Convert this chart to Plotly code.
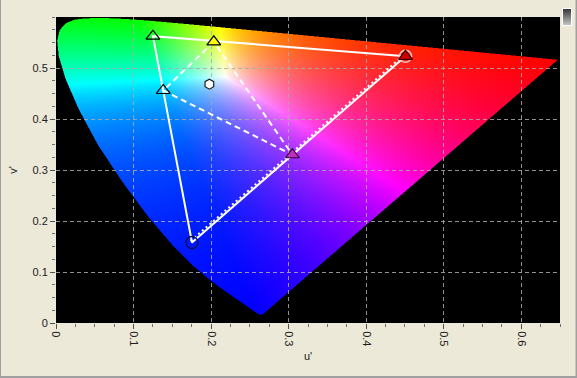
import base64, struct, zlib
import numpy as np
import plotly.graph_objects as go

# ---------------- data ----------------
# CIE 1931 2-degree spectral locus (x, y), 380..700 nm in 5 nm steps
locus_x = [0.1741, 0.1740, 0.1738, 0.1736, 0.1733, 0.1730, 0.1726, 0.1721, 0.1714, 0.1703,
           0.1689, 0.1669, 0.1644, 0.1611, 0.1566, 0.1510, 0.1440, 0.1355, 0.1241, 0.1096,
           0.0913, 0.0687, 0.0454, 0.0235, 0.0082, 0.0039, 0.0139, 0.0389, 0.0743, 0.1142,
           0.1547, 0.1929, 0.2296, 0.2658, 0.3016, 0.3373, 0.3731, 0.4087, 0.4441, 0.4788,
           0.5125, 0.5448, 0.5752, 0.6029, 0.6270, 0.6482, 0.6658, 0.6801, 0.6915, 0.7006,
           0.7079, 0.7140, 0.7190, 0.7230, 0.7260, 0.7283, 0.7300, 0.7311, 0.7320, 0.7327,
           0.7334, 0.7340, 0.7344, 0.7346, 0.7347]
locus_y = [0.0050, 0.0050, 0.0049, 0.0049, 0.0048, 0.0048, 0.0048, 0.0048, 0.0051, 0.0058,
           0.0069, 0.0086, 0.0109, 0.0138, 0.0177, 0.0227, 0.0297, 0.0399, 0.0578, 0.0868,
           0.1327, 0.2007, 0.2950, 0.4127, 0.5384, 0.6548, 0.7502, 0.8120, 0.8338, 0.8262,
           0.8059, 0.7816, 0.7543, 0.7243, 0.6923, 0.6589, 0.6245, 0.5896, 0.5547, 0.5202,
           0.4866, 0.4544, 0.4242, 0.3965, 0.3725, 0.3514, 0.3340, 0.3197, 0.3083, 0.2993,
           0.2920, 0.2859, 0.2809, 0.2770, 0.2740, 0.2717, 0.2700, 0.2689, 0.2680, 0.2673,
           0.2666, 0.2660, 0.2656, 0.2654, 0.2653]

# primaries (R, G, B) in u'v'
primary_u = [0.4507, 0.1250, 0.1754]
primary_v = [0.5229, 0.5625, 0.1579]
# secondaries (Y, C, M) in u'v'
secondary_u = [0.2035, 0.1383, 0.3049]
secondary_v = [0.5513, 0.4559, 0.3299]
# measured blue -> red edge (dotted)
measured_u = [0.1737, 0.4490]
measured_v = [0.1609, 0.5259]
# white point
white_u = [0.1978]
white_v = [0.4683]

x_ticks = [0, 0.1, 0.2, 0.3, 0.4, 0.5, 0.6]
y_ticks = [0, 0.1, 0.2, 0.3, 0.4, 0.5]
X_RANGE = [0, 0.65]
Y_RANGE = [0, 0.6]

# ---------------- background diagram image ----------------
W, H = 504 * 2, 306 * 2
SU, SV = 1.038, 1.019   # stretch of the diagram bitmap, as in the reference
GAMMA = 1.0


def png_bytes(rgb):
    h, w, _ = rgb.shape
    raw = b"".join(b"\x00" + rgb[r].tobytes() for r in range(h))
    def chunk(t, d):
        c = struct.pack(">I", len(d)) + t + d
        return c + struct.pack(">I", zlib.crc32(t + d) & 0xffffffff)
    return (b"\x89PNG\r\n\x1a\n" + chunk(b"IHDR", struct.pack(">IIBBBBB", w, h, 8, 2, 0, 0, 0))
            + chunk(b"IDAT", zlib.compress(raw, 9)) + chunk(b"IEND", b""))


lx = np.array(locus_x); ly = np.array(locus_y)
den = -2 * lx + 12 * ly + 3
poly_u = 4 * lx / den
poly_v = 9 * ly / den

us = (np.arange(W) + 0.5) / W * X_RANGE[1]
vs = Y_RANGE[1] - (np.arange(H) + 0.5) / H * Y_RANGE[1]
UU, VV = np.meshgrid(us / SU, vs / SV)

# point in polygon (ray casting)
inside = np.zeros(UU.shape, dtype=bool)
n = len(poly_u)
for i in range(n):
    j = (i - 1) % n
    ui, vi, uj, vj = poly_u[i], poly_v[i], poly_u[j], poly_v[j]
    cond = ((vi > VV) != (vj > VV))
    with np.errstate(divide="ignore", invalid="ignore"):
        xint = (uj - ui) * (VV - vi) / (vj - vi) + ui
    inside ^= cond & (UU < xint)

d = 6 * UU - 16 * VV + 12
cx = 9 * UU / d
cy = np.maximum(4 * VV / d, 1e-6)
Xc = cx / cy
Yc = np.ones_like(cx)
Zc = (1 - cx - cy) / cy
# CIE RGB (equal-energy white) primaries
M_rgb2xyz = np.array([[0.49, 0.31, 0.20], [0.17697, 0.81240, 0.01063], [0.00, 0.01, 0.99]])
M = np.linalg.inv(M_rgb2xyz)
xyz = np.stack([Xc, Yc, Zc], axis=-1)
rgb = xyz @ M.T
rgb = np.clip(rgb, 0, None)
mx = rgb.max(axis=-1, keepdims=True)
mx[mx == 0] = 1
rgb = rgb / mx
rgb = np.power(rgb, 1 / GAMMA)
rgb = (np.clip(rgb, 0, 1) * 255).astype(np.uint8)
rgb[~inside] = 0
diagram_src = "data:image/png;base64," + base64.b64encode(png_bytes(rgb)).decode()

# small gradient widget (top right)
gh, gw = 18, 10
grad = np.zeros((gh, gw, 3), dtype=np.uint8)
for r in range(gh):
    val = int(50 + (200 - 50) * r / (gh - 1))
    grad[r, :, :] = val
grad[0, :, :] = 255; grad[-1, :, :] = 255; grad[:, 0, :] = 255; grad[:, -1, :] = 255
grad_src = "data:image/png;base64," + base64.b64encode(png_bytes(grad)).decode()

# ---------------- figure ----------------
fig = go.Figure()

# solid primaries triangle
fig.add_trace(go.Scatter(x=primary_u + primary_u[:1], y=primary_v + primary_v[:1], mode="lines",
                         line=dict(color="white", width=2), hoverinfo="skip"))
# dashed secondaries triangle
fig.add_trace(go.Scatter(x=secondary_u + secondary_u[:1], y=secondary_v + secondary_v[:1], mode="lines",
                         line=dict(color="white", width=2, dash="6px,4px"), hoverinfo="skip"))
# dotted measured edge
fig.add_trace(go.Scatter(x=measured_u, y=measured_v, mode="lines",
                         line=dict(color="white", width=2, dash="2px,3px"), hoverinfo="skip"))

# circles at red and blue primaries
fig.add_trace(go.Scatter(x=[primary_u[0]], y=[primary_v[0]], mode="markers",
                         marker=dict(symbol="circle-open", size=12, color="#ffc8c8",
                                     line=dict(color="#ffc8c8", width=1.5))))
fig.add_trace(go.Scatter(x=[primary_u[2]], y=[primary_v[2]], mode="markers",
                         marker=dict(symbol="circle-open", size=12, color="#10104a",
                                     line=dict(color="#10104a", width=1.5))))
# triangles
tri_u = [primary_u[1], secondary_u[1], secondary_u[0], secondary_u[2], primary_u[0]]
tri_v = [primary_v[1], secondary_v[1], secondary_v[0], secondary_v[2], primary_v[0]]
tri_fill = ["rgba(0,0,0,0)", "rgba(0,0,0,0)", "#ffff00", "#c030c0", "#d00000"]
tri_line = ["#000000", "#000000", "#000000", "#300030", "#400000"]
fig.add_trace(go.Scatter(x=tri_u, y=tri_v, mode="markers",
                         marker=dict(symbol="triangle-up", size=12, color=tri_fill,
                                     line=dict(color=tri_line, width=1.2))))
# white point
fig.add_trace(go.Scatter(x=white_u, y=white_v, mode="markers",
                         marker=dict(symbol="hexagon", size=10, color="white",
                                     line=dict(color="#202020", width=1.2))))

fig.add_layout_image(dict(source=diagram_src, xref="x", yref="y", x=X_RANGE[0], y=Y_RANGE[1],
                          sizex=X_RANGE[1] - X_RANGE[0], sizey=Y_RANGE[1] - Y_RANGE[0],
                          sizing="stretch", layer="below", xanchor="left", yanchor="top"))
fig.add_layout_image(dict(source=grad_src, xref="paper", yref="paper",
                          x=(562 - 56) / 504, y=1 + (17 - 8) / 306, sizex=10 / 504, sizey=18 / 306,
                          sizing="stretch", layer="above", xanchor="left", yanchor="top"))

# window border (left, bottom, right)
for (x0, y0, x1, y1) in [(-56 / 504, -55 / 306, -56 / 504, 1 + 17 / 306),
                         (-56 / 504, -54 / 306, 521 / 504, -54 / 306),
                         (520.5 / 504, -55 / 306, 520.5 / 504, 1 + 17 / 306)]:
    fig.add_shape(type="line", xref="paper", yref="paper", x0=x0, y0=y0, x1=x1, y1=y1,
                  line=dict(color="#a0a0a0", width=2))

axis_common = dict(showgrid=True, gridcolor="rgba(170,170,170,0.85)", gridwidth=1, griddash="4px,3px",
                   zeroline=False, showline=False, ticks="outside", ticklen=5, tickcolor="#505050",
                   tickwidth=1, tickfont=dict(family="Liberation Sans, DejaVu Sans", size=11, color="#202020"),
                   minor=dict(dtick=0.025, tick0=0, ticks="outside", ticklen=3, tickcolor="#707070",
                              showgrid=False))

fig.update_xaxes(range=X_RANGE, tickvals=x_ticks, ticktext=[f"{t:g}" for t in x_ticks], tickangle=90,
                 title=dict(text="u'", font=dict(family="Liberation Sans, DejaVu Sans", size=11, color="#202020"),
                            standoff=6),
                 **axis_common)
fig.update_yaxes(range=Y_RANGE, tickvals=y_ticks, ticktext=[f"{t:g}" for t in y_ticks],
                 title=dict(text="v'", font=dict(family="Liberation Sans, DejaVu Sans", size=11, color="#202020"),
                            standoff=12),
                 **axis_common)

fig.update_layout(width=577, height=378, margin=dict(l=56, r=17, t=17, b=55, autoexpand=False),
                  paper_bgcolor="#ece9d8", plot_bgcolor="black", showlegend=False)

fig.write_html("out.html")
